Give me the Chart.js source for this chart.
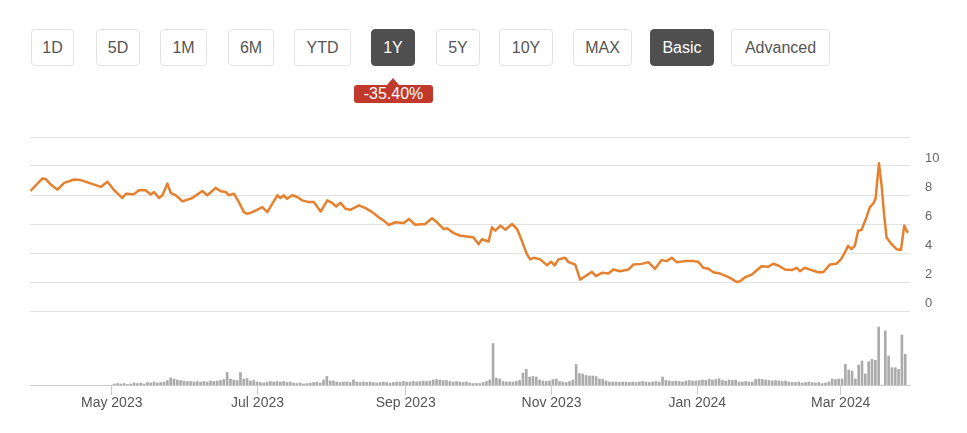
<!DOCTYPE html>
<html lang="en">
<head>
<meta charset="UTF-8">
<title>1Y price and volume</title>
<script src="https://cdn.jsdelivr.net/npm/chart.js@4.4.1/dist/chart.umd.min.js"></script>
<style>
  body { margin: 0; background: #fff; font-family: "Liberation Sans", Arial, sans-serif; }
  .range {
    position: absolute; top: 29px; height: 37px; box-sizing: border-box;
    border: 1px solid #e3e3e3; border-radius: 4px; background: #fff;
    color: #555; font-size: 16px; line-height: 35px; text-align: center;
  }
  .range.on { background: #4f4f4f; border-color: #4f4f4f; color: #fff; }
  .change {
    position: absolute; left: 354px; top: 85px; width: 79px; height: 18px;
    background: #c0392b; color: #fff; border-radius: 3px;
    font-size: 16px; line-height: 18px; text-align: center;
  }
  .change:before {
    content: ""; position: absolute; left: 33px; top: -7px;
    border-left: 6px solid transparent; border-right: 6px solid transparent;
    border-bottom: 7px solid #c0392b;
  }
  #wrap { position: absolute; left: 0; top: 120px; }
</style>
</head>
<body>
  <div class="range" style="left:31px;width:43px">1D</div>
  <div class="range" style="left:96px;width:44px">5D</div>
  <div class="range" style="left:160px;width:47px">1M</div>
  <div class="range" style="left:228px;width:46px">6M</div>
  <div class="range" style="left:294px;width:57px">YTD</div>
  <div class="range on" style="left:371px;width:44px">1Y</div>
  <div class="range" style="left:436px;width:44px">5Y</div>
  <div class="range" style="left:499px;width:54px">10Y</div>
  <div class="range" style="left:573px;width:59px">MAX</div>
  <div class="range on" style="left:650px;width:64px">Basic</div>
  <div class="range" style="left:731px;width:99px">Advanced</div>
  <div class="change">-35.40%</div>

  <div id="wrap">
    <canvas id="priceChart" width="967" height="300"></canvas>
  </div>

<script>
// x axis is in days counted from 28 Mar 2023
const priceDay = [
  0, 5, 6.4, 8.5, 11.3, 14.1, 18.3, 21, 24.5, 29.4, 32.2, 35, 38.5, 39.9, 43.3, 45.4, 48.2, 50.3,
  51.7, 53.8, 55.2, 57.3, 58.7, 60.8, 63.6, 67.7, 71.9, 74, 77.5, 79.6, 81.7, 83, 85.1, 87.2, 89.3, 90.7,
  92.8, 95.6, 97, 99.1, 101.2, 103.3, 104.6, 106, 107.4, 109.5, 111.6, 113.7, 116.5, 118.6, 121.4,
  124.2, 126.2, 127.9, 129.7, 131.8, 133.9, 137.4, 140.2, 143, 145.7, 147.8, 149.9, 152.7, 156.2,
  158.3, 161, 165.2, 168, 170.1, 172.9, 174.3, 177.1, 179.9, 182.7,
  185.4, 187.5, 188.9, 191.7, 193.1, 194.5, 196.6, 198.7, 201.5, 203.6, 205.6, 207.7, 209.1, 210.5,
  213.3, 216.1, 217.9, 219.3, 220.9, 223.7, 225.1, 227.9, 230, 232.1, 234.9, 236.6, 239.1, 241.8,
  243.9, 246.7, 250.2, 252.3, 255.8, 258.5, 261.3, 264.1, 266.2, 268.3, 270.4, 273.9,
  277.4, 279.4, 281.5, 283.6, 285.7, 288.5, 290.6, 292.7, 295.5, 296.9, 299, 301.8, 303.8, 305.9,
  308.7, 310.8, 312.9, 315.7, 318.5, 320.6, 321.9, 324, 326.8, 329.6, 331.7, 334.5, 337.3, 339.1,
  340.7, 342.1, 343.5, 344.9, 346.3, 347.7, 349.8, 351.2, 352.6, 353.6, 355, 356.1, 357.2, 358.2,
  360.3, 362.4, 364.2, 365.6, 366.6, 367.2
];
const priceValue = [
  8.28, 9.14, 9.1, 8.72, 8.37, 8.84, 9.07, 9.03, 8.84, 8.56, 8.91, 8.33, 7.79, 8.09, 8.06, 8.33, 8.33, 8.03,
  8.21, 7.79, 7.98, 8.79, 8.14, 7.98, 7.56, 7.79, 8.28, 7.98, 8.49, 8.26, 8.21, 7.98, 8.09, 7.51, 6.82, 6.7,
  6.82, 7.05, 7.17, 6.82, 7.4, 7.98, 7.79, 7.98, 7.74, 7.98, 7.86, 7.63, 7.51, 7.51, 6.86,
  7.63, 7.46, 7.21, 7.46, 7.05, 6.98, 7.28, 7.09, 6.82, 6.47, 6.23, 5.93, 6.12, 6.07,
  6.35, 5.95, 6.0, 6.4, 6.12, 5.65, 5.7, 5.37, 5.19, 5.14,
  5.07, 4.61, 4.95, 4.79, 5.77, 5.54, 5.89, 5.6, 6.0, 5.65, 4.84, 3.91, 3.56, 3.67,
  3.56, 3.16, 3.39, 3.14, 3.56, 3.67, 3.37, 3.21, 2.16, 2.4, 2.7, 2.4, 2.63, 2.58,
  2.86, 2.74, 2.86, 3.21, 3.25, 3.37, 2.91, 3.51, 3.44, 3.67, 3.37, 3.44,
  3.44, 3.39, 2.98, 2.91, 2.67, 2.58, 2.44, 2.28, 2.0, 2.05, 2.33, 2.51, 2.79, 3.09,
  3.05, 3.26, 3.14, 2.86, 2.82, 2.98, 2.74, 2.98, 2.82, 2.67, 2.67, 3.21, 3.26, 3.56,
  4.02, 4.49, 4.26, 4.49, 5.54, 5.58, 6.47, 7.16, 7.4, 7.75, 10.19, 8.68, 6.58, 5.07,
  4.61, 4.26, 4.21, 5.89, 5.54, 5.4
];

// volume, thousand shares, one value per session from volFirstDay to volLastDay
const volFirstDay = 35;
const volLastDay = 366;
const volume = [
  10, 15, 10, 15, 5, 10, 20, 15, 20, 10, 25, 20, 30, 20, 25, 30, 45, 70, 60, 50, 45, 40, 35,
  35, 30, 35, 30, 35, 30, 40, 35, 40, 45, 55, 125, 60, 50, 45, 125, 60, 65, 40, 45, 30, 25,
  20, 30, 35, 30, 35, 30, 35, 25, 30, 20, 15, 20, 10, 15, 20, 25, 30, 20, 50, 85, 40,
  40, 30, 25, 30, 30, 25, 50, 30, 25, 30, 25, 30, 25, 20, 25, 30, 25, 20, 25, 30, 30, 35, 30,
  30, 35, 30, 35, 40, 35, 40, 50, 55, 50, 45, 45, 35, 30, 35, 30, 25, 30, 20, 15, 15,
  15, 25, 35, 50, 415, 70, 60, 35, 30, 30, 30, 35, 45, 120, 157, 80, 85, 80, 50, 40, 35, 40,
  55, 60, 35, 30, 25, 35, 50, 205, 115, 110, 95, 90, 90, 85, 60, 55, 40, 30, 30, 30, 25, 30,
  30, 25, 30, 25, 30, 35, 30, 25, 30, 35, 30, 80, 45, 40, 35, 40, 35, 30, 40, 45, 40,
  40, 45, 50, 45, 55, 50, 55, 63, 45, 40, 50, 45, 50, 30, 30, 35, 30, 30, 55, 60, 55, 50, 45,
  40, 45, 40, 35, 40, 30, 25, 25, 30, 20, 25, 30, 25, 20, 25, 15, 20, 30, 60, 55, 60,
  60, 207, 150, 140, 60, 200, 240, 110, 233, 257, 247, 580, 0, 540, 290, 173, 173, 157, 500, 307
];

const tickDays = [34, 95, 157, 218, 279, 339];
const tickLabels = ['May 2023', 'Jul 2023', 'Sep 2023', 'Nov 2023', 'Jan 2024', 'Mar 2024'];
const priceTicks = [0, 2, 4, 6, 8, 10, 12];

const pricePoints = priceDay.map((d, i) => ({ x: d, y: priceValue[i] }));
const volStep = (volLastDay - volFirstDay) / (volume.length - 1);
const volPoints = volume.map((v, i) => ({ x: volFirstDay + i * volStep, y: v }));

function sidePane(scale) {
  scale.width = 57;
  scale.paddingTop = 0;
  scale.paddingBottom = 0;
}

const ctx = document.getElementById('priceChart').getContext('2d');
new Chart(ctx, {
  data: {
    datasets: [
      {
        type: 'line',
        data: pricePoints,
        xAxisID: 'x',
        yAxisID: 'y',
        borderColor: '#e5802f',
        borderWidth: 2.5,
        pointRadius: 0,
        borderJoinStyle: 'round',
        tension: 0
      },
      {
        type: 'bar',
        data: volPoints,
        xAxisID: 'x',
        yAxisID: 'y2',
        backgroundColor: '#ababab',
        barThickness: 2
      }
    ]
  },
  options: {
    responsive: false,
    animation: false,
    layout: { padding: { left: 30, right: 0, top: 17, bottom: 5 } },
    plugins: { legend: { display: false }, tooltip: { enabled: false } },
    scales: {
      x: {
        type: 'linear',
        min: -0.2,
        max: 368,
        offset: false,
        border: { display: true, color: '#cccccc' },
        grid: { offset: false, drawOnChartArea: false, tickLength: 10, color: '#cccccc' },
        afterBuildTicks: (scale) => { scale.ticks = tickDays.map(v => ({ value: v })); },
        afterFit: (scale) => { scale.height = 30; scale.paddingLeft = 0; scale.paddingRight = 0; },
        ticks: {
          autoSkip: false,
          maxRotation: 0,
          padding: 0,
          color: '#555',
          font: { family: 'Liberation Sans', size: 14 },
          callback: (v, i) => tickLabels[i]
        }
      },
      y: {
        position: 'right',
        stack: 'panes',
        stackWeight: 174,
        min: 0,
        max: 12,
        border: { display: false },
        grid: { color: '#e2e2e2', drawTicks: false },
        afterBuildTicks: (scale) => { scale.ticks = priceTicks.map(v => ({ value: v })); },
        afterFit: sidePane,
        ticks: {
          autoSkip: false,
          padding: 15,
          labelOffset: -8,
          color: '#666',
          font: { family: 'Liberation Sans', size: 13 },
          callback: (v) => (v === 12 ? '' : v)
        }
      },
      y2: {
        position: 'right',
        stack: 'panes',
        stackWeight: 74,
        min: 0,
        max: 740,
        border: { display: false },
        grid: { display: false },
        afterFit: sidePane,
        ticks: { display: false }
      }
    }
  }
});
</script>
</body>
</html>
